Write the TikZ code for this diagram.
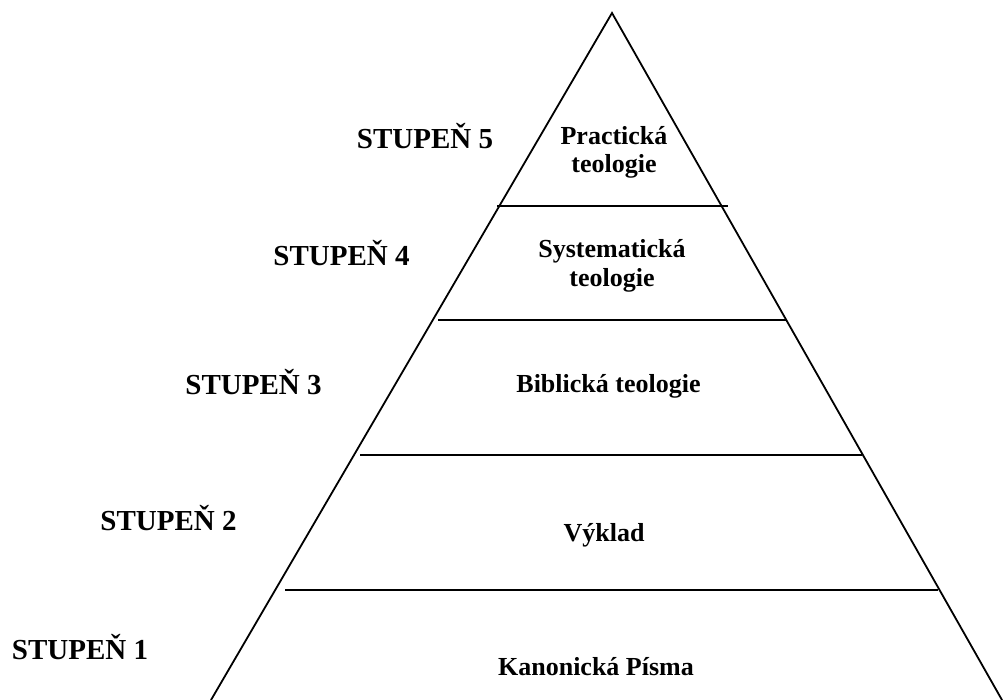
\documentclass[tikz,border=0pt]{standalone}
\usepackage{fontspec}
\setmainfont{Liberation Serif}
\tikzset{
  edge/.style={line width=1.8pt, line cap=round, line join=miter},
  tier/.style={line width=2.2pt},
  stage/.style={anchor=base, inner sep=0pt, font=\fontsize{29}{33}\selectfont\bfseries},
  layer/.style={anchor=base, inner sep=0pt, align=center, font=\fontsize{26}{28.5}\selectfont\bfseries}
}
\begin{document}
\begin{tikzpicture}[x=1pt,y=-1pt]
\useasboundingbox (0,0) rectangle (1004,700);
\begin{scope}
\clip (0,0) rectangle (1004,700);
\coordinate (apex) at (612,13);
\coordinate (bl) at (211,700);
\coordinate (br) at (1002,700);
\draw[edge] (bl) -- (apex) -- (br);
\end{scope}
\draw[tier] (497,206) -- (728,206);
\draw[tier] (438,320) -- (786,320);
\draw[tier] (360,455) -- (862,455);
\draw[tier] (285,590) -- (938,590);

\node[stage] (s5) at (425,149) {STUPEŇ 5};
\node[stage] (s4) at (341.5,266) {STUPEŇ 4};
\node[stage] (s3) at (253.5,395) {STUPEŇ 3};
\node[stage] (s2) at (168.5,530) {STUPEŇ 2};
\node[stage] (s1) at (80,659) {STUPEŇ 1};

\node[layer] (l5a) at (614,145) {Practická};
\node[layer] (l5b) at (614,173) {teologie};
\node[layer] (l4a) at (612,258) {Systematická};
\node[layer] (l4b) at (612,287) {teologie};
\node[layer] (l3) at (608.5,393) {Biblická teologie};
\node[layer] (l2) at (604,541) {Výklad};
\node[layer] (l1) at (596,675) {Kanonická Písma};
\end{tikzpicture}
\end{document}
